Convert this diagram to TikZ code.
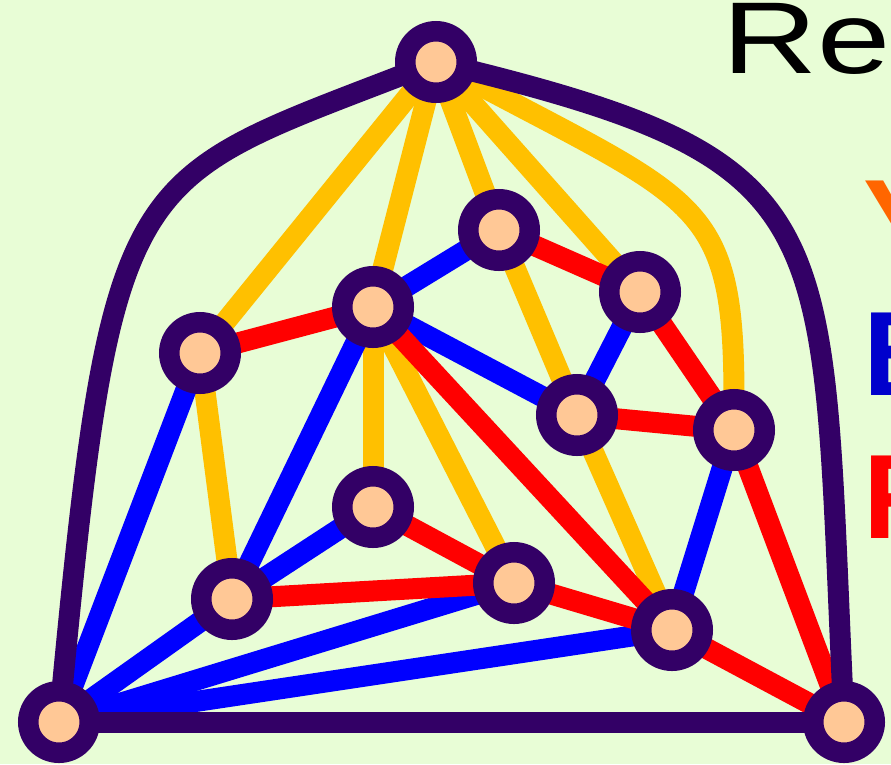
\documentclass[tikz,border=0pt]{standalone}
\usepackage{fontspec}
\setmainfont{Liberation Sans}
\usepackage{graphicx}
\usetikzlibrary{backgrounds}
\definecolor{bgc}{HTML}{E8FDD6}
\definecolor{purp}{HTML}{330066}
\definecolor{peach}{HTML}{FFC896}
\definecolor{gold}{HTML}{FFC000}
\definecolor{bblue}{HTML}{0000FF}
\definecolor{rred}{HTML}{FF0000}
\definecolor{oorange}{HTML}{FF6600}
\definecolor{tblue}{HTML}{0000CC}
\tikzset{
  vtx/.style={circle, draw=purp, fill=peach, line width=20.5pt, minimum size=61.5pt, inner sep=0pt, outer sep=0pt},
  ye/.style={draw=gold, line width=21pt},
  be/.style={draw=bblue, line width=21pt},
  re/.style={draw=rred, line width=21pt},
  pe/.style={draw=purp, line width=21pt},
  ttl/.style={anchor=base west, inner sep=0pt, font=\fontsize{102}{110}\selectfont},
  lgd/.style={anchor=base west, inner sep=0pt, font=\bfseries\fontsize{120}{130}\selectfont},
}
\begin{document}
\begin{tikzpicture}[x=1pt,y=-1pt]
\useasboundingbox (0,0) rectangle (891,764);
\clip (0,0) rectangle (891,764);
% vertices
\node[vtx] (T) at (436,62) {};
\node[vtx] (A) at (499,230) {};
\node[vtx] (B) at (640,292) {};
\node[vtx] (C) at (373,307) {};
\node[vtx] (D) at (200,353) {};
\node[vtx] (E) at (577,415) {};
\node[vtx] (F) at (734,430) {};
\node[vtx] (G) at (373,507) {};
\node[vtx] (H) at (232,599) {};
\node[vtx] (I) at (514,583) {};
\node[vtx] (J) at (672,630) {};
\node[vtx] (L) at (59,722) {};
\node[vtx] (R) at (844,722) {};
\begin{scope}[on background layer]
  \fill[bgc] (0,0) rectangle (891,764);
  % yellow
  \draw[ye] (T) -- (D);
  \draw[ye] (T) -- (C);
  \draw[ye] (T) -- (A);
  \draw[ye] (A) -- (E);
  \draw[ye] (E) -- (J);
  \draw[ye] (T) -- (B);
  \draw[ye] (T) .. controls (700,203) and (734,200) .. (F);
  \draw[ye] (D) -- (H);
  \draw[ye] (C) -- (G);
  \draw[ye] (C) -- (I);
  % blue
  \draw[be] (C) -- (A);
  \draw[be] (C) -- (E);
  \draw[be] (B) -- (E);
  \draw[be] (F) -- (J);
  \draw[be] (C) -- (H);
  \draw[be] (G) -- (H);
  \draw[be] (L) -- (D);
  \draw[be] (L) -- (H);
  \draw[be] (L) -- (I);
  \draw[be] (L) -- (J);
  % red
  \draw[re] (D) -- (C);
  \draw[re] (A) -- (B);
  \draw[re] (B) -- (F);
  \draw[re] (E) -- (F);
  \draw[re] (C) -- (J);
  \draw[re] (G) -- (I);
  \draw[re] (H) -- (I);
  \draw[re] (I) -- (J);
  \draw[re] (F) -- (R);
  \draw[re] (J) -- (R);
  % outer
  \draw[pe] (L) -- (R);
  \draw[pe] (L) .. controls (112,165) and (129,181) .. (T);
  \draw[pe] (T) .. controls (843,163) and (821,222) .. (R);
\end{scope}
% texts
\node[ttl] (title) at (722,73) {\scalebox{1.29}[1]{Re}};
\node[lgd, text=oorange] (ly) at (863,263) {Y};
\node[lgd, text=tblue] (lb) at (863,395) {B};
\node[lgd, text=rred] (lr) at (863,538) {R};
\end{tikzpicture}
\end{document}
